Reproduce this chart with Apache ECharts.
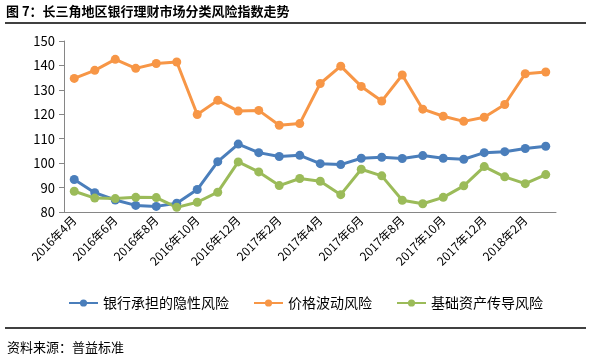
<!DOCTYPE html>
<html><head><meta charset="utf-8">
<script src="https://cdn.jsdelivr.net/npm/echarts@6/dist/echarts.min.js"></script>
<style>html,body{margin:0;padding:0;background:#fff}#c{width:595px;height:354px}</style>
</head><body><div id="c"></div>
<script>
const categories = ['2016年4月','2016年5月','2016年6月','2016年7月','2016年8月','2016年9月','2016年10月','2016年11月','2016年12月','2017年1月','2017年2月','2017年3月','2017年4月','2017年5月','2017年6月','2017年7月','2017年8月','2017年9月','2017年10月','2017年11月','2017年12月','2018年1月','2018年2月','2018年3月'];
const seriesNames = ['银行承担的隐性风险','价格波动风险','基础资产传导风险'];
const implicitRisk = [93.3,87.9,84.9,82.7,82.3,83.6,89.2,100.6,107.8,104.3,102.7,103.2,99.8,99.4,102.0,102.4,101.9,103.1,102.0,101.6,104.3,104.7,106.0,106.9];
const priceRisk = [134.7,138.0,142.5,138.8,140.8,141.4,119.9,125.7,121.3,121.6,115.5,116.2,132.6,139.7,131.4,125.4,136.1,122.1,119.2,117.1,118.8,124.0,136.6,137.3];
const assetRisk = [88.5,85.7,85.5,86.0,85.9,81.9,84.0,88.1,100.5,96.4,90.8,93.7,92.6,87.1,97.5,94.8,84.8,83.4,86.0,90.7,98.6,94.4,91.6,95.3];
const yTicks = {min:80, max:150, interval:10};
const titleText = '图 7：长三角地区银行理财市场分类风险指数走势';
const sourceText = '资料来源：普益标准';

const colors = ['#4A7EBB','#F79646','#9BBB59'];
const font = '"Noto Sans CJK SC", "Noto Sans", sans-serif';
const chart = echarts.init(document.getElementById('c'), null, {renderer:'canvas'});
const mk = (name, data, i) => ({
  name, type:'line', data, symbol:'circle', symbolSize:9,
  lineStyle:{width:3, color:colors[i]}, itemStyle:{color:colors[i]},
  emphasis:{disabled:true}, animation:false
});
chart.setOption({
  animation:false,
  textStyle:{fontFamily:font},
  grid:{left:64, right:39, top:41, bottom:142, containLabel:false},
  legend:{
    data:seriesNames, left:63, top:291, itemWidth:29, itemHeight:9, itemGap:24,
    textStyle:{fontSize:14, color:'#000', fontFamily:font}
  },
  xAxis:{
    type:'category', data:categories, boundaryGap:true,
    axisLine:{lineStyle:{color:'#868686', width:1}},
    axisTick:{interval:1, length:5, lineStyle:{color:'#868686'}},
    axisLabel:{interval:1, rotate:45, fontSize:12, color:'#000', margin:6, fontFamily:font}
  },
  yAxis:{
    type:'value', min:yTicks.min, max:yTicks.max, interval:yTicks.interval,
    axisLine:{show:true, lineStyle:{color:'#868686'}},
    axisTick:{show:true, length:5, lineStyle:{color:'#868686'}},
    splitLine:{show:false},
    axisLabel:{fontSize:13, color:'#000', margin:9, fontFamily:font}
  },
  series:[mk(seriesNames[0], implicitRisk, 0), mk(seriesNames[1], priceRisk, 1), mk(seriesNames[2], assetRisk, 2)],
  graphic:[
    {type:'text', left:6, top:5, style:{text:titleText, font:'bold 13px "Noto Sans CJK SC"', fill:'#000'}},
    {type:'line', shape:{x1:5, y1:23, x2:586, y2:23}, style:{stroke:'#000', lineWidth:1.5}},
    {type:'line', shape:{x1:5, y1:328, x2:586, y2:328}, style:{stroke:'#000', lineWidth:1.5}},
    {type:'text', left:7, top:341, style:{text:sourceText, font:'13px "Noto Sans CJK SC"', fill:'#000'}}
  ]
});
</script></body></html>
